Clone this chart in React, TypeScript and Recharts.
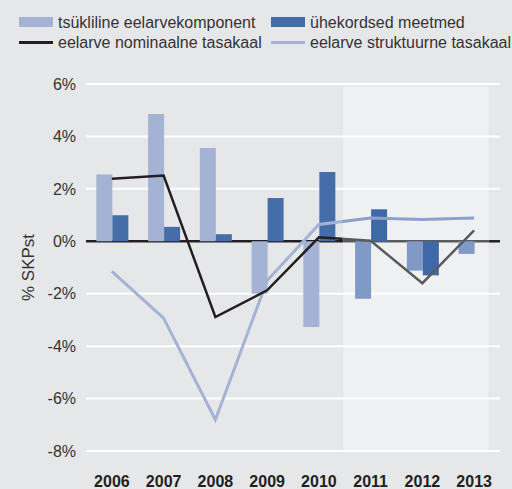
import {
  ComposedChart,
  Bar,
  Line,
  XAxis,
  YAxis,
  CartesianGrid,
  ReferenceArea,
  Legend,
  Cell,
  Label,
} from "recharts";

const years = ["2006", "2007", "2008", "2009", "2010", "2011", "2012", "2013"];
const forecastYears = ["2011", "2012", "2013"];
// % of GDP
const cyclical = [2.55, 4.86, 3.56, -2.0, -3.27, -2.19, -1.12, -0.48];
const oneOff = [0.99, 0.55, 0.27, 1.65, 2.64, 1.22, -1.3, 0];
const nominal = [2.39, 2.51, -2.89, -1.87, 0.15, 0.02, -1.6, 0.42];
const structural = [-1.15, -2.93, -6.81, -1.5, 0.64, 0.89, 0.83, 0.89];
const yTicks = [-8, -6, -4, -2, 0, 2, 4, 6];
const Y_MIN = -8;
const Y_MAX = 6;

const data = years.map((year, i) => ({
  year,
  cyclical: cyclical[i],
  oneOff: oneOff[i],
  nominal: nominal[i],
  structural: structural[i],
}));

const FONT = "'Liberation Sans', Arial, sans-serif";
const BG = "#e6e7e9";
const LIGHT = "#a4b2d4";
const LIGHT_F = "#8199c6";
const DARK = "#456ea8";
const DARK_F = "#3f69a6";
const BLACK = "#231f20";
const GREY = "#5a5b5d";
const STRUCT_F = "#8ba0cc";
const TEXT = "#333333";

// forecast shading, measured in category bands from the plot's left edge
const SHADE_FROM = 4.97;
const SHADE_TO = 7.78;
const SHADE_TOP = 5.9;
const SPLIT = 342 / 512;

const LegendBox = () => (
  <svg width={512} height={55} style={{ display: "block" }}>
    <g fontFamily={FONT} fontSize={16} fill={TEXT}>
      <rect x={19} y={17} width={34} height={10} fill={LIGHT} />
      <text x={58} y={27.5}>tsükliline eelarvekomponent</text>
      <rect x={271} y={17} width={34} height={10} fill={DARK} />
      <text x={310} y={27.5}>ühekordsed meetmed</text>
      <line x1={19} x2={53} y1={42.5} y2={42.5} stroke={BLACK} strokeWidth={3} />
      <text x={58} y={48}>eelarve nominaalne tasakaal</text>
      <line x1={271} x2={305} y1={42.5} y2={42.5} stroke={LIGHT} strokeWidth={3} />
      <text x={310} y={48}>eelarve struktuurne tasakaal</text>
    </g>
  </svg>
);

const XTick = (props: any) => (
  <text
    x={props.x}
    y={props.y + 36}
    textAnchor="middle"
    fontFamily={FONT}
    fontSize={16}
    fontWeight="bold"
    fill={BLACK}
  >
    {props.payload.value}
  </text>
);

const YLabel = (props: any) => {
  const vb = props.viewBox;
  const cx = vb.x + 28;
  const cy = vb.y + vb.height / 2;
  return (
    <text
      x={cx}
      y={cy}
      transform={`rotate(-90 ${cx} ${cy})`}
      textAnchor="middle"
      dominantBaseline="central"
      fontFamily={FONT}
      fontSize={17}
      fill={TEXT}
    >
      % SKPst
    </text>
  );
};

// the reference area covers every category band over the full y domain;
// from it we get the band width and draw the forecast shade
const ForecastShade = (props: any) => {
  const { x, y, width, height } = props;
  if (width == null || height == null) return null;
  const band = width / years.length;
  const py = (v: number) => y + ((Y_MAX - v) / (Y_MAX - Y_MIN)) * height;
  return (
    <rect
      x={x + SHADE_FROM * band}
      y={py(SHADE_TOP)}
      width={(SHADE_TO - SHADE_FROM) * band}
      height={py(Y_MIN) - py(SHADE_TOP)}
      fill="#ffffff"
      fillOpacity={0.38}
    />
  );
};

const ZeroLine = (props: any) => {
  const { x, y, width, height } = props;
  if (width == null || height == null) return null;
  const band = width / years.length;
  const zy = y + (Y_MAX / (Y_MAX - Y_MIN)) * height;
  const a = x + SHADE_FROM * band;
  const b = x + SHADE_TO * band;
  return (
    <g strokeWidth={2.5}>
      <line x1={x} x2={a} y1={zy} y2={zy} stroke={BLACK} />
      <line x1={a} x2={b} y1={zy} y2={zy} stroke={GREY} />
      <line x1={b} x2={x + width} y1={zy} y2={zy} stroke={BLACK} />
    </g>
  );
};

export default function App() {
  return (
    <div style={{ position: "absolute", left: 0, top: 0, width: 512, height: 489, background: BG }}>
      <ComposedChart
        width={512}
        height={489}
        data={data}
        margin={{ top: 84, right: 12, bottom: 0, left: 0 }}
        barCategoryGap="20%"
        barGap={0}
      >
        <defs>
          <linearGradient id="nomGrad" gradientUnits="userSpaceOnUse" x1={0} x2={512} y1={0} y2={0}>
            <stop offset={SPLIT} stopColor={BLACK} />
            <stop offset={SPLIT} stopColor={GREY} />
          </linearGradient>
          <linearGradient id="strGrad" gradientUnits="userSpaceOnUse" x1={0} x2={512} y1={0} y2={0}>
            <stop offset={SPLIT} stopColor={LIGHT} />
            <stop offset={SPLIT} stopColor={STRUCT_F} />
          </linearGradient>
        </defs>
        <XAxis
          dataKey="year"
          height={38}
          axisLine={false}
          tickLine={false}
          tickSize={0}
          tickMargin={0}
          interval={0}
          tick={<XTick />}
        />
        <YAxis
          width={86}
          domain={[Y_MIN, Y_MAX]}
          ticks={yTicks}
          interval={0}
          axisLine={false}
          tickLine={false}
          tickSize={0}
          tickMargin={10}
          tickFormatter={(v: number) => `${v}%`}
          tick={{ fontSize: 16, fill: TEXT, fontFamily: FONT }}
        >
          <Label content={<YLabel />} />
        </YAxis>
        <ReferenceArea
          x1={years[0]}
          x2={years[years.length - 1]}
          y1={Y_MIN}
          y2={Y_MAX}
          shape={<ForecastShade />}
        />
        <CartesianGrid vertical={false} stroke="#ffffff" strokeWidth={2} />
        <Bar dataKey="cyclical" fill={LIGHT} isAnimationActive={false}>
          {data.map((d) => (
            <Cell key={d.year} fill={forecastYears.includes(d.year) ? LIGHT_F : LIGHT} />
          ))}
        </Bar>
        <Bar dataKey="oneOff" fill={DARK} isAnimationActive={false}>
          {data.map((d) => (
            <Cell key={d.year} fill={forecastYears.includes(d.year) ? DARK_F : DARK} />
          ))}
        </Bar>
        <Line
          dataKey="structural"
          stroke="url(#strGrad)"
          strokeWidth={3}
          dot={false}
          activeDot={false}
          isAnimationActive={false}
        />
        <ReferenceArea
          x1={years[0]}
          x2={years[years.length - 1]}
          y1={Y_MIN}
          y2={Y_MAX}
          shape={<ZeroLine />}
        />
        <Line
          dataKey="nominal"
          stroke="url(#nomGrad)"
          strokeWidth={2.5}
          dot={false}
          activeDot={false}
          isAnimationActive={false}
        />
        <Legend
          layout="horizontal"
          verticalAlign="middle"
          align="center"
          content={<LegendBox />}
          wrapperStyle={{ top: 0, left: 0, width: 512, height: 55 }}
        />
      </ComposedChart>
    </div>
  );
}
